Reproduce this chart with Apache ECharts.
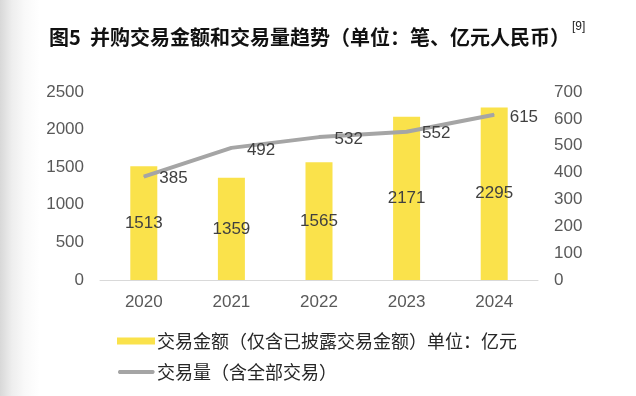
<!DOCTYPE html>
<html><head><meta charset="utf-8">
<script src="https://cdn.jsdelivr.net/npm/echarts@6/dist/echarts.min.js"></script>
<style>
html,body{margin:0;padding:0;width:636px;height:396px;overflow:hidden;
background:linear-gradient(to right,#d8d8d8 0px,#eeeeee 12px,#f9f9f9 25px,#ffffff 40px);}
#c{width:636px;height:396px;}
</style></head>
<body><div id="c"></div>
<script>
const years = ['2020','2021','2022','2023','2024'];
const amount = [1513, 1359, 1565, 2171, 2295];
const volume = [385, 492, 532, 552, 615];
const amountName = '交易金额（仅含已披露交易金额）单位：亿元';
const volumeName = '交易量（含全部交易）';
const titleText = '图5  并购交易金额和交易量趋势（单位：笔、亿元人民币）';
const noteText = '[9]';

const font = '"Liberation Sans", Arial, "Noto Sans CJK SC", sans-serif';
const chart = echarts.init(document.getElementById('c'), null, {renderer:'canvas'});
chart.setOption({
  backgroundColor: 'transparent',
  animation: false,
  textStyle: {fontFamily: font},
  title: [
    {text: titleText, left: 44, top: 22,
     textStyle: {fontSize: 20, fontWeight: 'bold', color: '#111', fontFamily: '"Noto Sans CJK SC", sans-serif'}},
    {text: noteText, left: 567, top: 16,
     textStyle: {fontSize: 12, fontWeight: 'normal', color: '#222', fontFamily: font}}
  ],
  grid: {left: 100, right: 98, top: 92, bottom: 116},
  legend: {
    orient: 'vertical', left: 112, top: 327, itemWidth: 38, itemHeight: 7, itemGap: 13,
    textStyle: {fontSize: 18, color: '#262626', fontFamily: '"Noto Sans CJK SC", sans-serif', padding: [0,0,0,-3]},
    data: [
      {name: amountName, icon: 'rect'},
      {name: volumeName, icon: 'path://M0,0 M0,7 M2,1.6 L36,1.6 A2,2 0 0 1 36,5.4 L2,5.4 A2,2 0 0 1 2,1.6 Z',
       itemStyle: {color: '#A5A5A5'}}
    ]
  },
  xAxis: {
    type: 'category', data: years,
    axisLine: {lineStyle: {color: '#d9d9d9', width: 1}},
    axisTick: {show: false},
    axisLabel: {fontSize: 17, color: '#595959', margin: 14}
  },
  yAxis: [
    {type: 'value', min: 0, max: 2500, interval: 500, splitLine: {show: false},
     axisLine: {show: false}, axisTick: {show: false},
     axisLabel: {fontSize: 17, color: '#595959', margin: 16, formatter: v => String(v)}},
    {type: 'value', min: 0, max: 700, interval: 100, splitLine: {show: false},
     axisLine: {show: false}, axisTick: {show: false},
     axisLabel: {fontSize: 17, color: '#595959', margin: 16, formatter: v => String(v)}}
  ],
  series: [
    {name: amountName, type: 'bar', data: amount, barWidth: 27, yAxisIndex: 0,
     itemStyle: {color: '#FAE24B'},
     label: {show: true, position: 'inside', fontSize: 17, color: '#404040'}},
    {name: volumeName, type: 'line', data: volume, yAxisIndex: 1,
     symbol: 'circle', symbolSize: 1, showSymbol: true,
     lineStyle: {color: '#A5A5A5', width: 4},
     itemStyle: {color: '#A5A5A5'},
     label: {show: true, position: 'right', distance: 15, offset: [0, 2], fontSize: 17, color: '#404040'}}
  ]
});
</script></body></html>
